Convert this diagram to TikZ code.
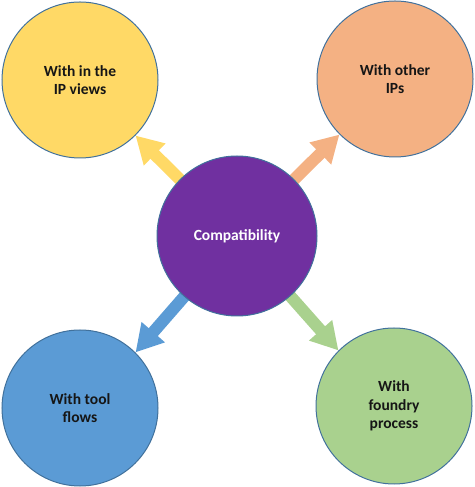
\documentclass[tikz,border=0pt]{standalone}
\usepackage{fontspec}
\setmainfont{Carlito}
\usetikzlibrary{arrows.meta}
\definecolor{ipyellow}{HTML}{FFD966}
\definecolor{iporange}{HTML}{F4B183}
\definecolor{ippurple}{HTML}{7030A0}
\definecolor{ipblue}{HTML}{5B9BD5}
\definecolor{ipgreen}{HTML}{A9D18E}
\definecolor{rimblue}{HTML}{41719C}
\definecolor{textdark}{HTML}{161616}
\pgfdeclarelayer{back}
\pgfsetlayers{back,main}

\begin{document}
\begin{tikzpicture}[x=1pt, y=1pt,
	bubble/.style={circle, draw=rimblue, line width=1pt, minimum size=156pt, inner sep=0pt, align=center, text=textdark, font=\fontsize{15.5}{18.5}\selectfont\bfseries},
	fatarrow/.style={line width=12pt, -{Triangle[width=29pt, length=27pt]}}]
			%%%%% START %%%%%
			
			\useasboundingbox (0, 0) rectangle (474, 487);
			
			\node[bubble, fill=ippurple, minimum size=160pt, text=white] (compat) at (237, 251) {Compatibility};
			
			\node[bubble, fill=ipyellow] (views) at (80, 407) {With in the\\IP views};
			\node[bubble, fill=iporange] (others) at (395, 408) {With other\\IPs};
			\node[bubble, fill=ipblue] (tools) at (80, 79) {With tool\\flows};
			\node[bubble, fill=ipgreen] (foundry) at (394, 81) {With\\foundry\\process};
			
			\begin{pgfonlayer}{back}
			\draw[fatarrow, ipyellow] (compat.center) -- (views.-45);
			\draw[fatarrow, iporange] (compat.center) -- (others.-135);
			\draw[fatarrow, ipblue] (compat.center) -- (tools.45);
			\draw[fatarrow, ipgreen] (compat.center) -- (foundry.135);
			\end{pgfonlayer}
			
			%%%%% END %%%%%
\end{tikzpicture}
\end{document}
